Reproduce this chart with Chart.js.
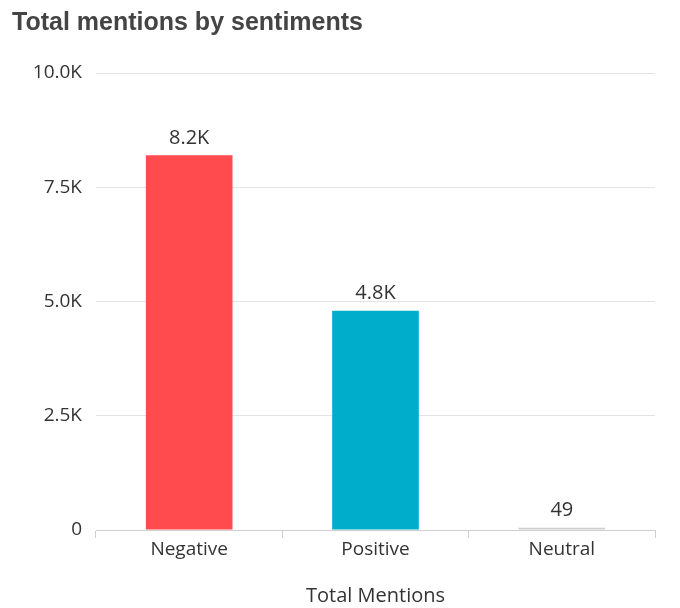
<!DOCTYPE html>
<html>
<head>
<meta charset="utf-8">
<script src="https://cdn.jsdelivr.net/npm/chart.js@4.4.1/dist/chart.umd.min.js"></script>
<style>
  html, body { margin: 0; padding: 0; background: #fff; }
  #wrap { width: 680px; height: 608px; }
</style>
</head>
<body>
<div id="wrap"><canvas id="chart" width="680" height="608"></canvas></div>
<script>
var categories = ['Negative', 'Positive', 'Neutral'];
var mentions = [8200, 4800, 49];
var yTicks = [0, 2500, 5000, 7500, 10000];

function fmtK(v) {
  if (v >= 1000) return (v / 1000).toFixed(1) + 'K';
  return String(v);
}

// value labels above each bar
var barLabels = {
  id: 'barLabels',
  afterDatasetsDraw: function (chart) {
    var ctx = chart.ctx;
    var meta = chart.getDatasetMeta(0);
    ctx.save();
    ctx.font = '20px "Open Sans"';
    ctx.fillStyle = '#333';
    ctx.textAlign = 'center';
    ctx.textBaseline = 'middle';
    meta.data.forEach(function (bar, i) {
      ctx.fillText(fmtK(mentions[i]), bar.x, bar.y - 17);
    });
    ctx.restore();
  }
};

var ctx = document.getElementById('chart').getContext('2d');
var chart = new Chart(ctx, {
  type: 'bar',
  data: {
    labels: categories,
    datasets: [{
      data: mentions,
      backgroundColor: ['#FF4B4D', '#00AECB', '#cfcfcf'],
      borderWidth: 0,
      categoryPercentage: 1,
      barPercentage: 0.465
    }]
  },
  options: {
    responsive: false,
    animation: false,
    layout: { padding: { left: 12, right: 25, top: 0, bottom: 0 } },
    plugins: {
      legend: { display: false },
      tooltip: { enabled: false },
      title: {
        display: true,
        text: 'Total mentions by sentiments',
        align: 'start',
        color: '#444',
        font: { family: '"Liberation Sans", Arial, sans-serif', size: 25, weight: 'bold' },
        padding: { top: 8, bottom: 35 }
      }
    },
    scales: {
      x: {
        grid: {
          offset: true,
          drawOnChartArea: false,
          drawTicks: true,
          tickLength: 8,
          color: '#cfcfcf'
        },
        border: { display: true, color: '#cfcfcf' },
        ticks: {
          color: '#333',
          padding: 0,
          font: { family: '"Open Sans"', size: 19 }
        },
        title: {
          display: true,
          text: 'Total Mentions',
          color: '#333',
          font: { family: '"Open Sans"', size: 20 },
          padding: { top: 0, bottom: 0 }
        },
        afterFit: function (scale) { scale.height = 78; }
      },
      y: {
        min: 0,
        max: 10000,
        afterBuildTicks: function (scale) {
          scale.ticks = yTicks.map(function (v) { return { value: v }; });
        },
        grid: { color: '#e3e3e3', drawTicks: false },
        border: { display: false },
        ticks: {
          color: '#333',
          padding: 14,
          font: { family: '"Open Sans"', size: 19 },
          callback: function (v) { return fmtK(v); }
        },
        afterFit: function (scale) { scale.width = 84; }
      }
    }
  },
  plugins: [barLabels]
});
</script>
</body>
</html>
